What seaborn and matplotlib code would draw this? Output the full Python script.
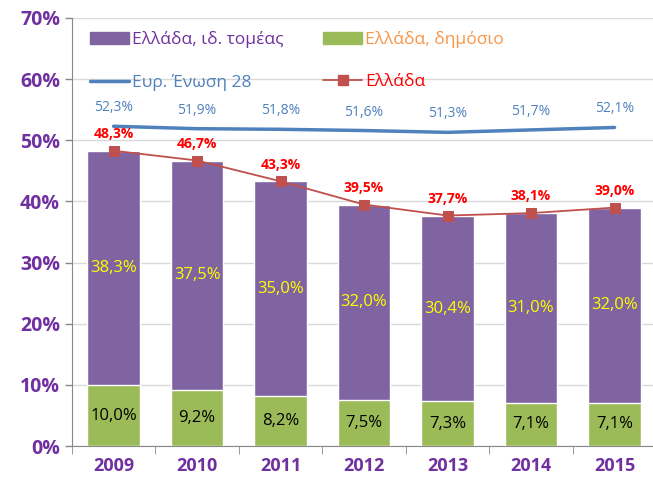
import matplotlib
matplotlib.use('Agg')
import matplotlib.pyplot as plt
import numpy as np
import pandas as pd
import seaborn as sns
from matplotlib.lines import Line2D
from matplotlib.patches import Patch

years = ['2009', '2010', '2011', '2012', '2013', '2014', '2015']
greece_total = [48.3, 46.7, 43.3, 39.5, 37.7, 38.1, 39.0]
greece_private = [38.3, 37.5, 35.0, 32.0, 30.4, 31.0, 32.0]
greece_public = [10.0, 9.2, 8.2, 7.5, 7.3, 7.1, 7.1]
eu28 = [52.3, 51.9, 51.8, 51.6, 51.3, 51.7, 52.1]

PURPLE = '#8064A2'
GREEN = '#9BBB59'
BLUE = '#4F81BD'
RED_LINE = '#C0504D'
TEXT_PURPLE = '#7030A0'

sns.set_style('white')
plt.rcParams['font.family'] = ['Open Sans', 'DejaVu Sans']

df = pd.DataFrame({'year': years, 'total': greece_total, 'private': greece_private,
                   'public': greece_public, 'eu': eu28})

fig = plt.figure(figsize=(6.53, 4.86), dpi=100)
ax = fig.add_axes([0.11, 0.082, 0.895, 0.881])

# stacked bars: total (purple) with public part (green) over it
sns.barplot(data=df, x='year', y='total', color=PURPLE, width=0.63, saturation=1, ax=ax, zorder=2)
sns.barplot(data=df, x='year', y='public', color=GREEN, width=0.63, saturation=1, ax=ax, zorder=3)

xs = np.arange(len(years))
sns.lineplot(x=xs, y=df['eu'], color=BLUE, linewidth=2.5, ax=ax, zorder=4)
sns.lineplot(x=xs, y=df['total'], color=RED_LINE, linewidth=1.3, marker='s', markersize=7,
             markeredgecolor=RED_LINE, ax=ax, zorder=5)

def fmt(v):
    return '{:.1f}%'.format(v).replace('.', ',')

for i in range(len(years)):
    ax.text(i, greece_public[i] / 2, fmt(greece_public[i]), ha='center', va='center',
            fontsize=12, color='black', zorder=6)
    ax.text(i, greece_public[i] + greece_private[i] / 2, fmt(greece_private[i]), ha='center',
            va='center', fontsize=12, color='#FFFF00', zorder=6)
    ax.text(i, greece_total[i] + 1.6, fmt(greece_total[i]), ha='center', va='bottom',
            fontsize=10, fontweight='bold', color='#FF0000', zorder=6)
    ax.text(i, eu28[i] + 1.8, fmt(eu28[i]), ha='center', va='bottom',
            fontsize=10, color=BLUE, zorder=6)

ax.set_ylim(0, 70)
ax.set_xlim(-0.5, 6.5)
ax.set_yticks(np.arange(0, 71, 10))
ax.set_yticklabels(['{}%'.format(v) for v in range(0, 71, 10)])
ax.set_xlabel('')
ax.set_ylabel('')
ax.yaxis.grid(True, color='#D9D9D9', linewidth=1, zorder=0)
ax.set_axisbelow(True)
ax.tick_params(axis='y', labelsize=14, colors='#888888', labelcolor=TEXT_PURPLE, length=5, width=1, direction='out', left=True)
ax.tick_params(axis='x', labelsize=13, length=0, pad=8, labelcolor=TEXT_PURPLE)
for lab in ax.get_xticklabels() + ax.get_yticklabels():
    lab.set_fontweight('bold')
ax.set_xticks(np.arange(-0.5, 7, 1), minor=True)
ax.tick_params(axis='x', which='minor', length=6, color='#888888', bottom=True)
for s in ['top', 'right']:
    ax.spines[s].set_visible(False)
for s in ['left', 'bottom']:
    ax.spines[s].set_color('#888888')

handles = [Patch(color=PURPLE), Line2D([], [], color=BLUE, linewidth=2.5),
           Patch(color=GREEN), Line2D([], [], color=RED_LINE, marker='s', markersize=7, linewidth=1.3)]
labels = ['Ελλάδα, ιδ. τομέας', 'Ευρ. Ένωση 28', 'Ελλάδα, δημόσιο', 'Ελλάδα']
leg = ax.legend(handles, labels, ncol=2, loc='upper left', bbox_to_anchor=(0.005, 1.005), frameon=False,
                fontsize=12.5, handlelength=2.2, handletextpad=0.2, columnspacing=2.3, labelspacing=1.45)
for t, c in zip(leg.get_texts(), [TEXT_PURPLE, BLUE, '#F79646', '#FF0000']):
    t.set_color(c)

fig.savefig('out.png', dpi=100)
